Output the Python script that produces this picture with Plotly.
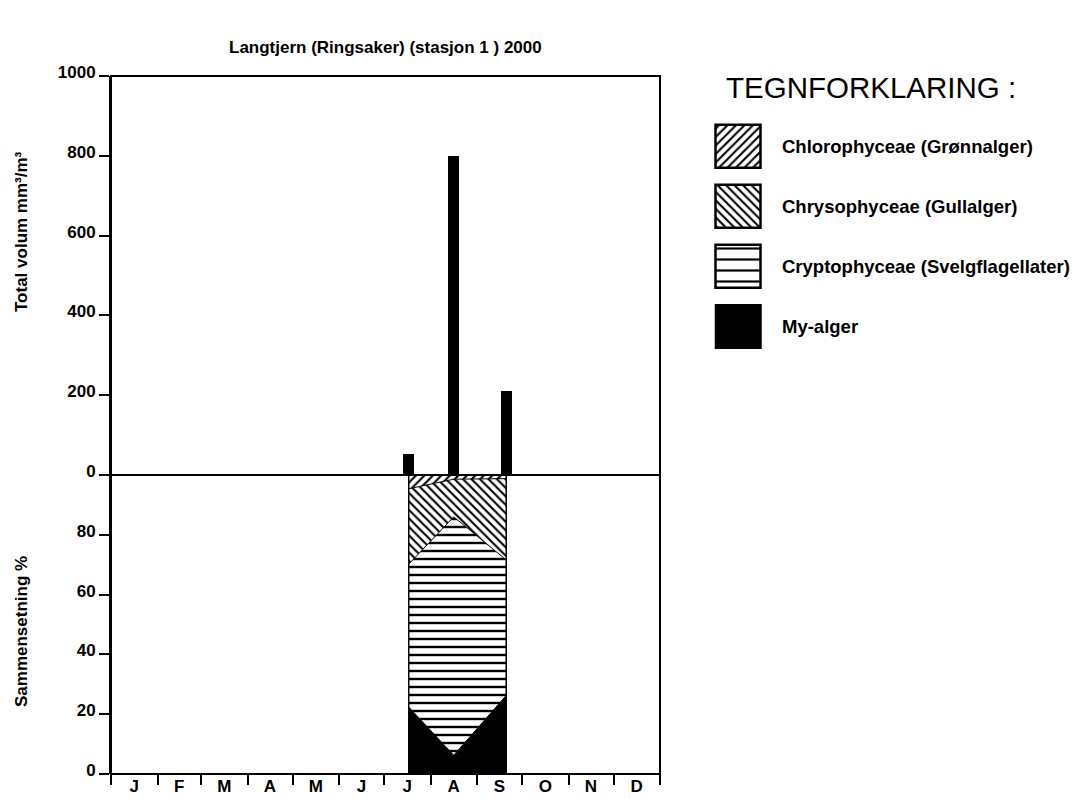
import plotly.graph_objects as go
import pandas as pd

# ---------------- data ----------------
title = "Langtjern (Ringsaker) (stasjon 1 ) 2000"
sample_dates = ["2000-07-17 12:00", "2000-08-16 12:00", "2000-09-20 12:00"]
total_volume = [52, 800, 211]          # mm3/m3

# composition, percent (stacked from bottom)
my_alger = [22.4, 6.3, 26.3]
cryptophyceae = [47.8, 79.7, 45.3]
chrysophyceae = [25.2, 12.6, 27.2]
chlorophyceae = [4.6, 1.4, 1.2]

month_labels = ["J", "F", "M", "A", "M", "J", "J", "A", "S", "O", "N", "D"]
volume_ticks = [0, 200, 400, 600, 800, 1000]
percent_ticks = [0, 20, 40, 60, 80]

legend_names = ["Chlorophyceae (Grønnalger)", "Chrysophyceae (Gullalger)",
                "Cryptophyceae (Svelgflagellater)", "My-alger"]

# ---------------- geometry (pixels of the 1074x799 window) ----------------
W, H = 1074, 799
FONT = "Liberation Sans, Arial, sans-serif"

def px(x):
    return x / W

def py(y):
    return (H - y) / H

xdom = [px(111), px(660)]
ydom_top = [py(475), py(76)]
ydom_bot = [py(774), py(475)]

month_starts = pd.date_range("2000-01-01", periods=13, freq="MS")
month_mids = month_starts[:-1] + (month_starts[1:] - month_starts[:-1]) / 2

day_ms = 86400000
fig = go.Figure()

# ---------- upper panel: total volume bars ----------
fig.add_trace(go.Bar(
    x=pd.to_datetime(sample_dates), y=total_volume, width=7.3 * day_ms,
    marker=dict(color="black", line=dict(width=0)),
    xaxis="x", yaxis="y", showlegend=False, hoverinfo="x+y"))

# ---------- lower panel: stacked composition ----------
comp_series = [
    ("My-alger", my_alger, None),
    ("Cryptophyceae", cryptophyceae, dict(shape="-", size=8, solidity=0.3)),
    ("Chrysophyceae", chrysophyceae, dict(shape="\\", size=6, solidity=0.35)),
    ("Chlorophyceae", chlorophyceae, dict(shape="/", size=6, solidity=0.35)),
]
for name, vals, pat in comp_series:
    kw = {}
    if pat is None:
        kw["fillcolor"] = "black"
    else:
        kw["fillcolor"] = "white"
        kw["fillpattern"] = dict(fgcolor="black", bgcolor="white",
                                 fillmode="replace", **pat)
    fig.add_trace(go.Scatter(
        x=pd.to_datetime(sample_dates), y=vals, name=name, mode="lines",
        stackgroup="comp", line=dict(color="black", width=1),
        xaxis="x", yaxis="y2", showlegend=False, **kw))

# vertical edges of the composition block
d = pd.to_datetime(sample_dates)
fig.add_trace(go.Scatter(
    x=[d[0], d[0], None, d[-1], d[-1]], y=[0, 100, None, 0, 100],
    mode="lines", line=dict(color="black", width=1.5),
    xaxis="x", yaxis="y2", showlegend=False, hoverinfo="skip"))

# ---------- legend swatches (own small axes) ----------
leg_patterns = [dict(shape="/", size=6, solidity=0.35),
                dict(shape="\\", size=6, solidity=0.35),
                dict(shape="-", size=11, solidity=0.2),
                None]
for i, (nm, pat) in enumerate(zip(legend_names, leg_patterns)):
    if pat is None:
        marker = dict(color="black", line=dict(color="black", width=2))
    else:
        marker = dict(color="white", line=dict(color="black", width=2.5),
                      pattern=dict(fgcolor="black", bgcolor="white",
                                   fillmode="replace", **pat))
    fig.add_trace(go.Bar(
        x=[1], y=[i], base=0, orientation="h", width=0.7167, marker=marker,
        xaxis="x3", yaxis="y3", showlegend=False, hoverinfo="skip"))

annotations = []
for i, nm in enumerate(legend_names):
    annotations.append(dict(
        text="<b>%s</b>" % nm, x=px(780), xref="paper", y=i, yref="y3",
        xanchor="left", yanchor="middle", showarrow=False,
        font=dict(family=FONT, size=18.5, color="black")))

annotations += [
    dict(text="<b>%s</b>" % title, x=px(385), y=py(47), xref="paper", yref="paper",
         xanchor="center", yanchor="middle", showarrow=False,
         font=dict(family=FONT, size=17, color="black")),
    dict(text="TEGNFORKLARING :", x=px(724), y=py(88), xref="paper", yref="paper",
         xanchor="left", yanchor="middle", showarrow=False,
         font=dict(family=FONT, size=29.5, color="black")),
    dict(text="<b>Total volum mm³/m³</b>", x=px(21), y=py(232), xref="paper",
         yref="paper", xanchor="center", yanchor="middle", textangle=-90,
         showarrow=False, font=dict(family=FONT, size=17, color="black")),
    dict(text="<b>Sammensetning %</b>", x=px(21), y=py(632), xref="paper",
         yref="paper", xanchor="center", yanchor="middle", textangle=-90,
         showarrow=False, font=dict(family=FONT, size=17, color="black")),
]

# frame + middle line
shapes = [
    dict(type="rect", xref="paper", yref="paper", x0=xdom[0], x1=xdom[1],
         y0=ydom_bot[0], y1=ydom_top[1], line=dict(color="black", width=2)),
    dict(type="line", xref="paper", yref="paper", x0=xdom[0], x1=xdom[1],
         y0=ydom_top[0], y1=ydom_top[0], line=dict(color="black", width=2)),
]

tickfont = dict(family=FONT, size=17, color="black", weight="bold")
yaxis_common = dict(showgrid=False, zeroline=False, showline=True, linecolor="black",
                    linewidth=2, ticks="outside", ticklen=10, tickwidth=2,
                    tickcolor="black", tickfont=tickfont, anchor="x",
                    ticklabelshift=-4, fixedrange=True, automargin=False)

fig.update_layout(
    width=W, height=H, margin=dict(l=0, r=0, t=0, b=0, autoexpand=False),
    paper_bgcolor="white", plot_bgcolor="white",
    bargap=0, barmode="overlay",
    xaxis=dict(domain=xdom, type="date", range=["2000-01-01", "2001-01-01"],
               anchor="y2", showgrid=False, zeroline=False, showline=False,
               tickmode="array", tickvals=list(month_mids), ticktext=month_labels,
               ticks="", tickfont=tickfont, fixedrange=True, automargin=False,
               minor=dict(tickmode="array", tickvals=list(month_starts),
                          ticks="outside", ticklen=10, tickwidth=2,
                          tickcolor="black", showgrid=False)),
    yaxis=dict(domain=ydom_top, range=[0, 1000], tickvals=volume_ticks,
               **yaxis_common),
    yaxis2=dict(domain=ydom_bot, range=[0, 100], tickvals=percent_ticks,
                **yaxis_common),
    xaxis3=dict(domain=[px(713.75), px(763.25)], range=[-0.05, 1.05], anchor="y3",
                visible=False, fixedrange=True, automargin=False),
    yaxis3=dict(domain=[py(351), py(122)], range=[3.4083, -0.4083], anchor="x3",
                visible=False, fixedrange=True, automargin=False),
    annotations=annotations, shapes=shapes,
)

fig.write_html("out.html", config={"displayModeBar": False},
               post_script="document.body.style.margin='0';"
                           "document.body.style.overflow='hidden';")
